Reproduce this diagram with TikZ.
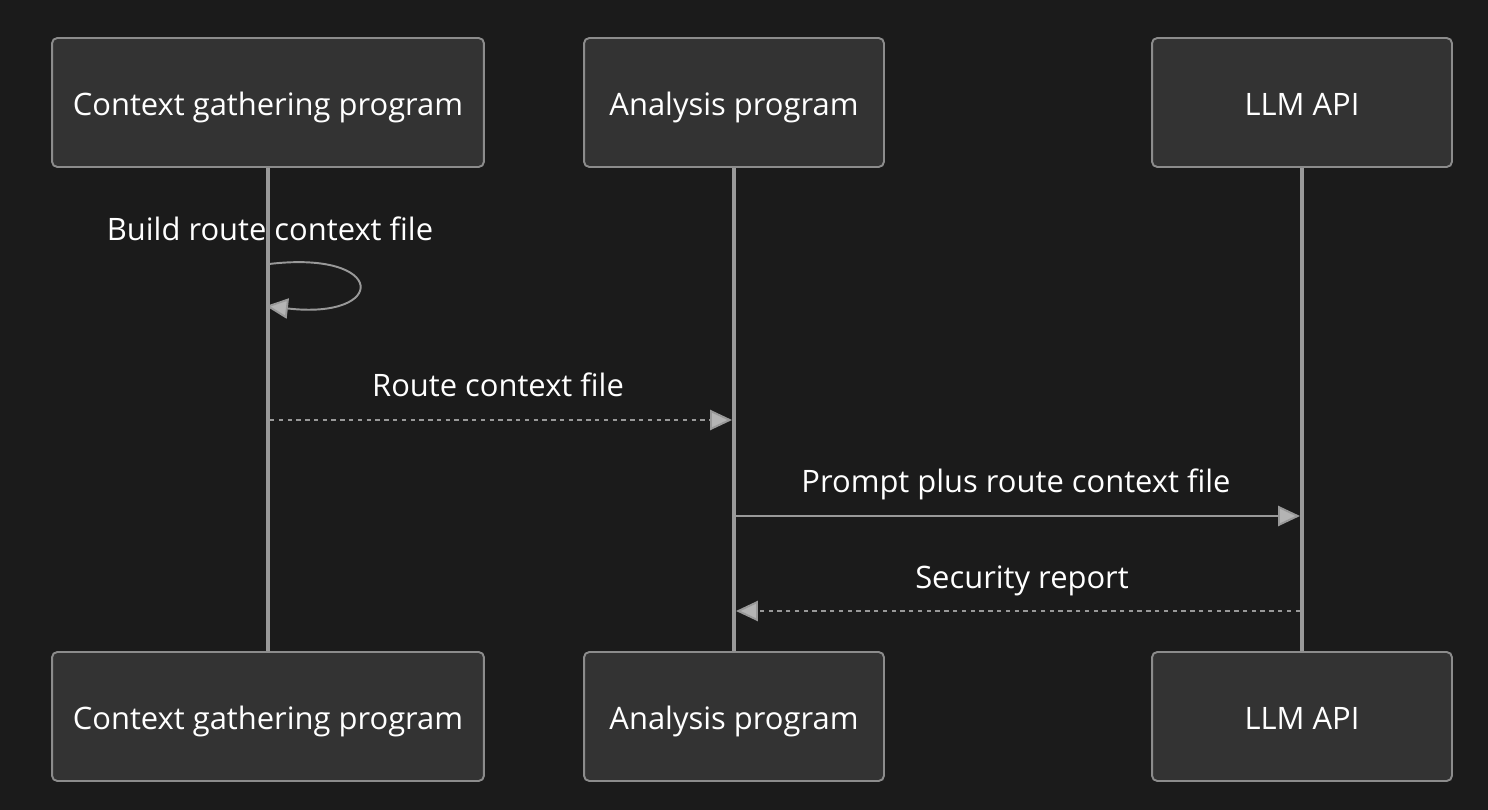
\documentclass[tikz,border=0pt]{standalone}
\usepackage{fontspec}
\setmainfont{Open Sans}
\usetikzlibrary{arrows.meta}

\definecolor{bgdark}{HTML}{1B1B1B}
\definecolor{boxfill}{HTML}{333333}
\definecolor{boxline}{HTML}{8C8C8C}
\definecolor{lifeline}{HTML}{999999}
\definecolor{tipfill}{HTML}{B4B4B4}

\begin{document}
\begin{tikzpicture}[
    x=0.02cm, y=-0.02cm,
    actor/.style={rectangle, rounded corners=3pt, draw=boxline, line width=1.1pt, fill=boxfill, minimum width=8.64cm, minimum height=2.58cm, inner sep=0pt, text=white, text height=15pt, text depth=0pt, font=\fontsize{17.6}{21}\selectfont},
    smallactor/.style={actor, minimum width=6cm},
    life/.style={draw=lifeline, line width=1.8pt},
    msg/.style={draw=lifeline, line width=1.1pt, -{Triangle[length=12.5pt, width=11.5pt, fill=tipfill]}},
    reply/.style={msg, dash pattern=on 2.5pt off 2.5pt},
    label/.style={text=white, inner sep=0pt, text height=15pt, text depth=0pt, font=\fontsize{17.6}{21}\selectfont}
]

% Background
\useasboundingbox[fill=bgdark] (0,0) rectangle (1488,810);

% Lifelines (behind the boxes)
\draw[life] (268,167) -- (268,652);
\draw[life] (734,167) -- (734,652);
\draw[life] (1302,167) -- (1302,652);

% Actors top
\node[actor] (ctxTop) at (268,102.5) {Context gathering program};
\node[smallactor] (anaTop) at (734,102.5) {Analysis program};
\node[smallactor] (llmTop) at (1302,102.5) {LLM API};

% Actors bottom
\node[actor] (ctxBot) at (268,716.5) {Context gathering program};
\node[smallactor] (anaBot) at (734,716.5) {Analysis program};
\node[smallactor] (llmBot) at (1302,716.5) {LLM API};

% Points on the lifelines
\coordinate (loopOut) at (269,264);
\coordinate (loopIn) at (266,306);
\coordinate (ctxM1) at (270,420);
\coordinate (anaM1) at (732,420);
\coordinate (anaM2) at (736,516);
\coordinate (llmM2) at (1300,516);
\coordinate (llmM3) at (1300,611);
\coordinate (anaM3) at (736,611);

% Messages
\draw[msg] (loopOut) .. controls (388,250) and (388,320) .. (loopIn);
\draw[reply] (ctxM1) -- (anaM1);
\draw[msg] (anaM2) -- (llmM2);
\draw[reply] (llmM3) -- (anaM3);

% Labels
\node[label] (lblLoop) at (270,227) {Build route context file};
\node[label] (lblM1) at (498,383) {Route context file};
\node[label] (lblM2) at (1016,479) {Prompt plus route context file};
\node[label] (lblM3) at (1022,575) {Security report};

\end{tikzpicture}
\end{document}
